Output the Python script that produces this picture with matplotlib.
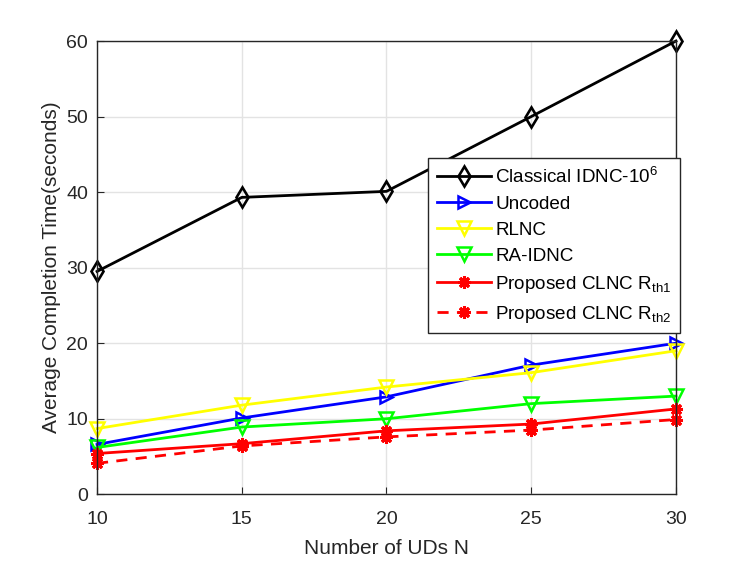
import matplotlib
matplotlib.use("Agg")
import matplotlib.pyplot as plt

plt.rcParams['font.family'] = ['Liberation Sans', 'DejaVu Sans']
plt.rcParams['mathtext.default'] = 'regular'

N = [10, 15, 20, 25, 30]
classical = [29.5, 39.3, 40.1, 50.0, 60.0]
uncoded = [6.6, 10.1, 12.9, 17.1, 20.0]
rlnc = [8.7, 11.8, 14.2, 16.1, 19.0]
ra_idnc = [6.2, 8.9, 10.0, 12.0, 13.0]
clnc_r1 = [5.4, 6.7, 8.4, 9.3, 11.3]
clnc_r2 = [4.1, 6.4, 7.6, 8.5, 9.9]

labels = ['Classical IDNC-10$^{6}$', 'Uncoded', 'RLNC', 'RA-IDNC',
          'Proposed CLNC R$_{th1}$', 'Proposed CLNC R$_{th2}$']
xticks = [10, 15, 20, 25, 30]
yticks = [0, 10, 20, 30, 40, 50, 60]

fig = plt.figure(figsize=(7.47, 5.61), dpi=100)
ax = fig.add_axes([0.1299, 0.1189, 0.775, 0.808])

lw = 2.0
ms = 9
common = dict(lw=lw, clip_on=False)
ax.plot(N, classical, color='black', marker='d', ms=10.5, mfc='none', mew=1.9, label=labels[0], **common)
ax.plot(N, uncoded, color='#0000ff', marker='>', ms=ms, mfc='none', mew=1.8, label=labels[1], **common)
ax.plot(N, rlnc, color='#ffff00', marker='v', ms=ms + 1, mfc='none', mew=1.8, label=labels[2], **common)
ax.plot(N, ra_idnc, color='#00ff00', marker='v', ms=ms + 1, mfc='none', mew=1.8, label=labels[3], **common)
ax.plot(N, clnc_r1, color='#ff0000', marker=(8, 2, 0), ms=ms, mew=2.2, label=labels[4], **common)
ax.plot(N, clnc_r2, color='#ff0000', ls=(0, (4, 3)), marker=(8, 2, 0), ms=ms, mew=2.2, label=labels[5], **common)

ax.set_xlim(10, 30)
ax.set_ylim(0, 60)
ax.set_xticks(xticks)
ax.set_yticks(yticks)
ax.grid(True, color='#e3e3e3', lw=1.0)
ax.set_axisbelow(True)
tc = '#262626'
ax.tick_params(direction='in', labelsize=14, colors=tc, length=5, top=False, right=False)
ax.tick_params(axis='x', pad=12)
ax.tick_params(axis='y', pad=6.5)
for s in ax.spines.values():
    s.set_color(tc)
    s.set_linewidth(1.0)
ax.set_xlabel('Number of UDs N', fontsize=15, color=tc, labelpad=8)
ax.set_ylabel('Average Completion Time(seconds)', fontsize=15, color=tc, labelpad=4)

leg = ax.legend(loc='upper left', bbox_to_anchor=(0.572, 0.742), fontsize=13.6,
                handlelength=2.9, borderaxespad=0, frameon=True, fancybox=False,
                framealpha=1, edgecolor='#262626', borderpad=0.45, labelspacing=0.47,
                handletextpad=0.2)
leg.get_frame().set_linewidth(1.0)
leg.set_zorder(5)

fig.savefig('out.png', dpi=100)
